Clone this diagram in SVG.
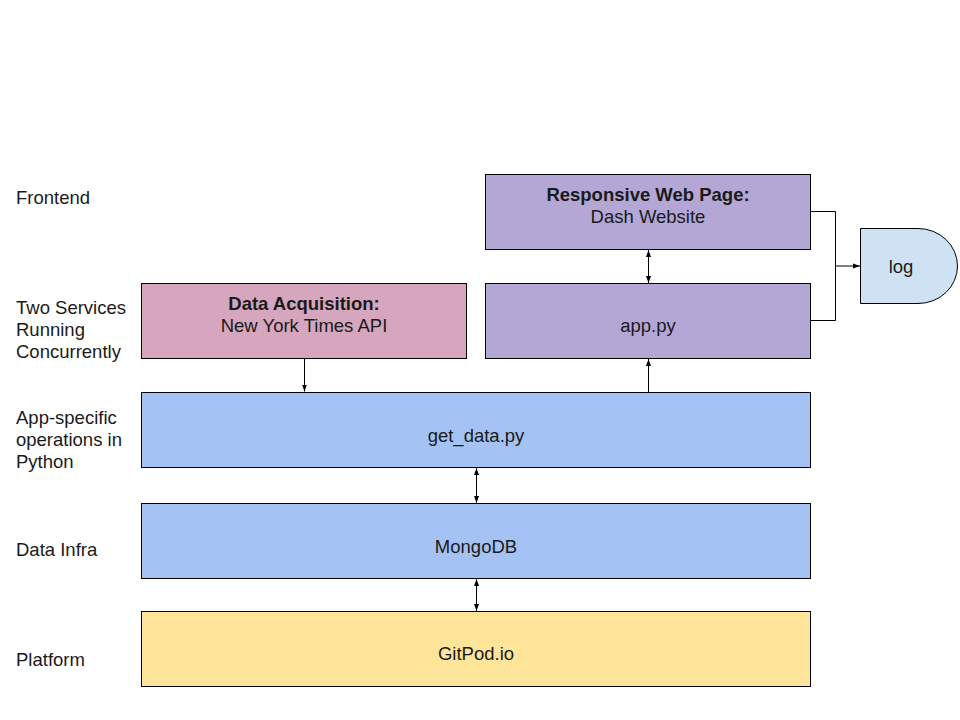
<svg xmlns="http://www.w3.org/2000/svg" width="960" height="720" viewBox="0 0 960 720">
<defs>
<style>
text{font-family:"Liberation Sans",Arial,sans-serif;font-size:18.5px;fill:#1a1a1a}
.c{text-anchor:middle}
.b{font-weight:bold}
.box{stroke:#000;stroke-width:1}
.ln{stroke:#000;stroke-width:1;fill:none}
</style>
<marker id="ah" markerWidth="8" markerHeight="8" refX="7" refY="3.5" orient="auto-start-reverse" markerUnits="userSpaceOnUse">
<path d="M0,1 L7,3.5 L0,6 Z" fill="#000"/>
</marker>
</defs>
<rect width="960" height="720" fill="#fff"/>
<g id="labels">
<text x="16" y="204">Frontend</text>
<text x="16" y="314">Two Services</text>
<text x="16" y="336">Running</text>
<text x="16" y="358">Concurrently</text>
<text x="16" y="424">App-specific</text>
<text x="16" y="446">operations in</text>
<text x="16" y="468">Python</text>
<text x="16" y="556">Data Infra</text>
<text x="16" y="666">Platform</text>
</g>
<g id="web">
<rect class="box" x="485.5" y="174.5" width="325" height="75" fill="#b4a7d6"/>
<text class="c b" x="648" y="201">Responsive Web Page:</text>
<text class="c" x="648" y="223">Dash Website</text>
</g>
<g id="app">
<rect class="box" x="485.5" y="283.5" width="325" height="75" fill="#b4a7d6"/>
<text class="c" x="648" y="332">app.py</text>
</g>
<g id="acq">
<rect class="box" x="141.5" y="283.5" width="325" height="75" fill="#d5a6bd"/>
<text class="c b" x="304" y="310">Data Acquisition:</text>
<text class="c" x="304" y="332">New York Times API</text>
</g>
<g id="getdata">
<rect class="box" x="141.5" y="392.5" width="669" height="75" fill="#a4c2f4"/>
<text class="c" x="476" y="442">get_data.py</text>
</g>
<g id="mongo">
<rect class="box" x="141.5" y="503.5" width="669" height="75" fill="#a4c2f4"/>
<text class="c" x="476" y="553">MongoDB</text>
</g>
<g id="gitpod">
<rect class="box" x="141.5" y="611.5" width="669" height="75" fill="#ffe599"/>
<text class="c" x="476" y="660">GitPod.io</text>
</g>
<g id="log">
<path class="box" d="M860.5,228.5 H918 A39.5,37.5 0 0 1 918,303.5 H860.5 Z" fill="#cfe2f3"/>
<text class="c" x="901" y="273">log</text>
</g>
<g id="connectors">
<line class="ln" x1="304.5" y1="358.5" x2="304.5" y2="391.5" marker-end="url(#ah)"/>
<line class="ln" x1="648.5" y1="392.5" x2="648.5" y2="359" marker-end="url(#ah)"/>
<line class="ln" x1="648.5" y1="250" x2="648.5" y2="283" marker-start="url(#ah)" marker-end="url(#ah)"/>
<line class="ln" x1="476.5" y1="468" x2="476.5" y2="503" marker-start="url(#ah)" marker-end="url(#ah)"/>
<line class="ln" x1="476.5" y1="579" x2="476.5" y2="611" marker-start="url(#ah)" marker-end="url(#ah)"/>
<path class="ln" d="M810.5,211.5 H835.5 V320.5 H810.5"/>
<line class="ln" x1="835.5" y1="266" x2="860" y2="266" marker-end="url(#ah)"/>
</g>
</svg>
